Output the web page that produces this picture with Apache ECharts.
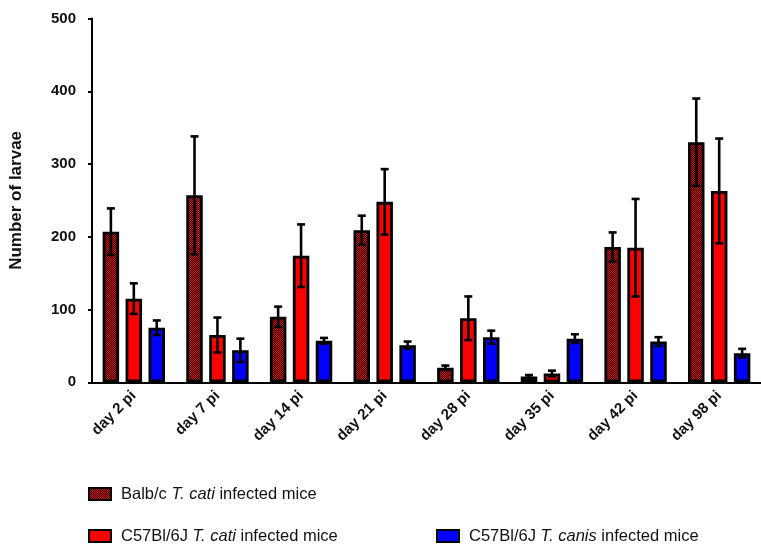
<!DOCTYPE html>
<html>
<head>
<meta charset="utf-8">
<script src="https://cdn.jsdelivr.net/npm/echarts@6/dist/echarts.min.js"></script>
<style>html,body{margin:0;padding:0;background:#fff;}#c{width:761px;height:550px;}</style>
</head>
<body>
<div id="c"></div>
<script>
const categories = ['day 2 pi', 'day 7 pi', 'day 14 pi', 'day 21 pi', 'day 28 pi', 'day 35 pi', 'day 42 pi', 'day 98 pi'];
const seriesNames = ['Balb/c T. cati infected mice', 'C57Bl/6J T. cati infected mice', 'C57Bl/6J T. canis infected mice'];
const balbCatiMean = [207, 257, 90, 209, 20, 8, 186, 330];
const balbCatiErr = [32, 81, 14, 20, 3, 2, 20, 60];
const c57CatiMean = [115, 65, 174, 248, 88, 12, 185, 263];
const c57CatiErr = [21, 24, 43, 45, 30, 4, 67, 72];
const c57CanisMean = [75, 44, 57, 51, 62, 60, 56, 40];
const c57CanisErr = [10, 16, 4, 5, 9, 6, 6, 6];
const yTicks = [0, 100, 200, 300, 400, 500];

const FONT = "'Liberation Sans', Arial, sans-serif";
const BAR_W = 16.5, BAR_GAP = 0.39;

// checkered dark-red pattern
const pc = document.createElement('canvas');
pc.width = 2; pc.height = 2;
const px = pc.getContext('2d');
px.fillStyle = '#120000'; px.fillRect(0, 0, 2, 2);
px.fillStyle = '#f00000'; px.fillRect(0, 0, 1, 1); px.fillRect(1, 1, 1, 1);

const means = [balbCatiMean, c57CatiMean, c57CanisMean];
const errs = [balbCatiErr, c57CatiErr, c57CanisErr];
const fills = [{ image: pc, repeat: 'repeat' }, '#ff0000', '#0000ff'];

const series = [];
means.forEach((m, i) => {
  series.push({
    name: seriesNames[i],
    type: 'bar',
    data: m,
    barWidth: BAR_W,
    barGap: (BAR_GAP * 100) + '%',
    itemStyle: { color: fills[i], borderColor: '#000', borderWidth: 2.8 },
    emphasis: { disabled: true },
    z: 2
  });
});
means.forEach((m, i) => {
  const offset = (i - 1) * BAR_W * (1 + BAR_GAP);
  series.push({
    type: 'custom',
    z: 5,
    silent: true,
    data: m.map((v, k) => [k, v, errs[i][k]]),
    encode: { x: 0, y: 1 },
    renderItem: function (params, api) {
      const idx = api.value(0), v = api.value(1), e = api.value(2);
      const top = api.coord([idx, v + e]);
      const bot = api.coord([idx, Math.max(0, v - e)]);
      const x = top[0] + offset;
      const cap = 4;
      const st = { stroke: '#000', lineWidth: 2.6 };
      return {
        type: 'group',
        children: [
          { type: 'line', shape: { x1: x, y1: top[1], x2: x, y2: bot[1] }, style: st },
          { type: 'line', shape: { x1: x - cap, y1: top[1], x2: x + cap, y2: top[1] }, style: st },
          { type: 'line', shape: { x1: x - cap, y1: bot[1], x2: x + cap, y2: bot[1] }, style: st }
        ]
      };
    }
  });
});

function legendRich() {
  const base = { fontFamily: FONT, fontSize: 16.5, color: '#111', lineHeight: 20 };
  return {
    s: { width: 5 },
    n: Object.assign({}, base),
    i: Object.assign({ fontStyle: 'italic' }, base)
  };
}
function mkLegend(name, left, top, fmt) {
  return {
    data: [name],
    left: left, top: top,
    padding: 0,
    itemWidth: 22, itemHeight: 12,
    icon: 'rect',
    selectedMode: false,
    formatter: fmt,
    textStyle: { fontFamily: FONT, fontSize: 16.5, color: '#111', lineHeight: 20, rich: legendRich() }
  };
}

const chart = echarts.init(document.getElementById('c'), null, { renderer: 'canvas' });
chart.setOption({
  animation: false,
  backgroundColor: '#fff',
  grid: { left: 88, top: 18.5, bottom: 167.7, right: -7, containLabel: false },
  legend: [
    mkLegend(seriesNames[0], 88, 484, () => '{s|}{n|Balb/c }{i|T. cati}{n| infected mice}'),
    mkLegend(seriesNames[1], 88, 526, () => '{s|}{n|C57Bl/6J }{i|T. cati}{n| infected mice}'),
    mkLegend(seriesNames[2], 436, 526, () => '{s|}{n|C57Bl/6J }{i|T. canis}{n| infected mice}')
  ],
  xAxis: {
    type: 'category',
    data: categories,
    axisLine: { lineStyle: { color: '#000', width: 2 } },
    axisTick: { alignWithLabel: true, length: 5, lineStyle: { color: '#000', width: 2 } },
    axisLabel: { rotate: 45, margin: 11, fontFamily: FONT, fontWeight: 'bold', fontSize: 15, color: '#111', interval: 0 }
  },
  yAxis: {
    type: 'value',
    min: yTicks[0], max: yTicks[yTicks.length - 1], interval: yTicks[1] - yTicks[0],
    name: 'Number of larvae',
    nameLocation: 'middle',
    nameRotate: 90,
    nameGap: 67,
    nameTextStyle: { fontFamily: FONT, fontWeight: 'bold', fontSize: 17, color: '#111' },
    axisLine: { show: true, lineStyle: { color: '#000', width: 2 } },
    axisTick: { show: true, length: 4, lineStyle: { color: '#000', width: 2 } },
    splitLine: { show: false },
    axisLabel: { margin: 16, fontFamily: FONT, fontWeight: 'bold', fontSize: 15, color: '#111' }
  },
  series: series
});
</script>
</body>
</html>
